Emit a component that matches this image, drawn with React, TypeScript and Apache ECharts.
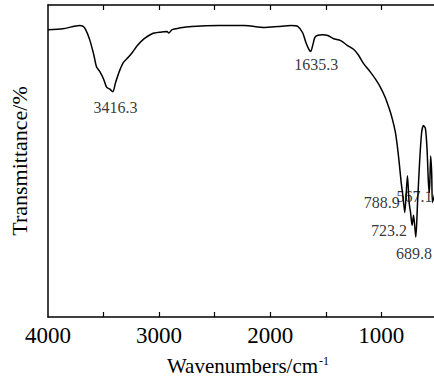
import React, { useEffect, useRef } from 'react';
import * as echarts from 'echarts';

const wavenumbers = [
  4000, 3866, 3714, 3687, 3661, 3625, 3589, 3563, 3536, 3500, 3473, 3446, 3416.3,
  3393, 3357, 3321, 3286, 3241, 3196, 3134, 3063, 2991, 2929, 2913, 2884, 2821,
  2705, 2464, 2232, 2054, 1929, 1813, 1750, 1708, 1679, 1652, 1635.3, 1616, 1598,
  1571, 1527, 1482, 1429, 1366, 1304, 1250, 1205, 1161, 1098, 1054, 1009, 964,
  929, 902, 875, 857, 839, 821, 804, 788.9, 765, 750, 737, 723.2, 710, 689.8,
  674, 656, 638, 621, 603, 589, 576, 567.1, 556, 547, 540, 527, 515,
];
const transmittance = [
  92.1, 92.4, 93.4, 93.2, 92.1, 88.9, 84.2, 80.1, 78.8, 76.3, 73.7, 73.1, 72.2,
  75.0, 78.8, 81.6, 82.9, 84.8, 87.0, 89.2, 90.8, 91.3, 91.5, 91.0, 92.1, 92.6,
  93.1, 93.4, 93.4, 92.8, 93.1, 93.4, 93.1, 91.1, 88.0, 85.8, 85.1, 87.3, 89.6,
  90.3, 90.5, 90.2, 89.2, 88.6, 87.0, 85.8, 83.9, 81.3, 78.5, 76.3, 73.7, 70.3,
  66.8, 63.6, 59.5, 55.1, 49.4, 43.0, 38.3, 33.5, 45.3, 36.7, 33.5, 29.4, 32.6, 25.6,
  36.7, 49.4, 58.9, 61.4, 60.4, 54.1, 43.0, 39.9, 51.6, 46.2, 36.7, 38.3, 40.0,
];

const peakWavenumbers = [3416.3, 1635.3, 788.9, 723.2, 689.8, 567.1];
const peakLabels = ['3416.3', '1635.3', '788.9', '723.2', '689.8', '567.1'];

const xTickValues = [3500, 3000, 2500, 2000, 1500, 1000, 500];
const xTickLabels = [4000, 3000, 2000, 1000];

const xName = 'Wavenumbers/cm';
const xNameSup = '-1';
const yName = 'Transmittance/%';

const FONT = "'Liberation Serif', 'Times New Roman', serif";

export default function App() {
  const ref = useRef<HTMLDivElement>(null);

  useEffect(() => {
    if (!ref.current) return;
    const chart = echarts.init(ref.current, null, { renderer: 'svg' });

    const labelOffsets: number[][] = [
      [2.6, 15.5],
      [5.6, 13],
      [-23, -10],
      [-23, 5],
      [-1.7, 16],
      [-15, 3.5],
    ];

    const seriesData = wavenumbers.map((w, i) => [w, transmittance[i]]);
    const peakData = peakWavenumbers.map((w, i) => {
      const idx = wavenumbers.indexOf(w);
      return {
        value: [w, transmittance[idx]],
        label: { formatter: peakLabels[i], offset: labelOffsets[i] },
      };
    });

    const axisCommon = {
      type: 'value' as const,
      min: 400,
      max: 4000,
      inverse: true,
      splitLine: { show: false },
      axisLine: { show: true, lineStyle: { color: '#000', width: 1.5 } },
      axisTick: {
        show: true,
        inside: true,
        length: 5,
        customValues: xTickValues,
        lineStyle: { color: '#000', width: 1.2 },
      },
    };

    chart.setOption({
      animation: false,
      backgroundColor: '#fff',
      grid: { left: 45, right: 12, top: 5, bottom: 60, containLabel: false },
      xAxis: [
        {
          ...axisCommon,
          position: 'bottom',
          axisLabel: {
            show: true,
            customValues: xTickLabels,
            formatter: (v: number) => String(v),
            color: '#000',
            fontFamily: FONT,
            fontSize: 23,
            margin: 7,
          },
          name: xName + '{sup|' + xNameSup + '}',
          nameLocation: 'middle',
          nameGap: 38,
          nameTextStyle: {
            color: '#000',
            fontFamily: FONT,
            fontSize: 21,
            rich: {
              sup: { fontFamily: FONT, fontSize: 12, color: '#000', verticalAlign: 'top', padding: [0, 0, 8, 1] },
            },
          },
        },
        {
          ...axisCommon,
          position: 'top',
          axisLabel: { show: false },
        },
      ],
      yAxis: {
        type: 'value',
        min: 0,
        max: 100,
        splitLine: { show: false },
        axisTick: { show: false },
        axisLabel: { show: false },
        axisLine: { show: true, lineStyle: { color: '#000', width: 1.5 } },
        name: yName,
        nameLocation: 'middle',
        nameGap: 18,
        nameTextStyle: { color: '#000', fontFamily: FONT, fontSize: 22 },
      },
      series: [
        {
          type: 'line',
          xAxisIndex: 0,
          data: seriesData,
          showSymbol: false,
          symbol: 'none',
          smooth: 0.25,
          lineStyle: { color: '#000', width: 1.5 },
          z: 2,
        },
        {
          type: 'scatter',
          xAxisIndex: 0,
          data: peakData,
          symbolSize: 1,
          itemStyle: { color: 'rgba(0,0,0,0)' },
          label: {
            show: true,
            position: 'inside',
            color: '#000',
            fontFamily: FONT,
            fontSize: 16,
          },
          z: 3,
        },
      ],
    });

    return () => {
      chart.dispose();
    };
  }, []);

  return (
    <div
      style={{
        position: 'fixed',
        left: 0,
        top: 0,
        width: 434,
        height: 381,
        overflow: 'hidden',
        background: '#fff',
      }}
    >
      <div ref={ref} style={{ width: 460, height: 381 }} />
    </div>
  );
}
